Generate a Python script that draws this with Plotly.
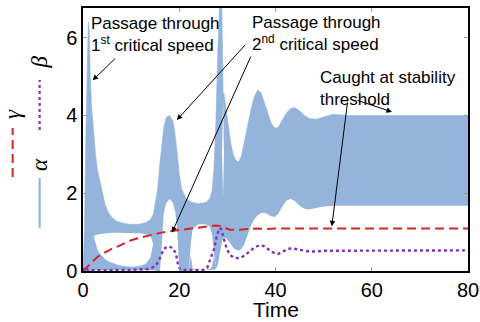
import plotly.graph_objects as go

# ---- alpha (fast oscillation shown as envelope band, with white "holes") ----
t_alpha = [0.0, 0.3, 0.6, 0.9, 1.1, 1.3, 1.5, 1.8, 2.2, 2.6, 3.0, 3.5, 4.0, 4.6, 5.3, 6.0, 7.0, 8.5,
           10.0, 11.5, 13.0, 14.0, 14.6, 15.5, 16.0, 16.4, 16.8, 17.3, 18.0, 18.7, 19.2, 19.6, 20.0,
           20.5, 21.0, 21.5, 22.0, 22.4, 22.8, 24.0, 25.5, 26.3, 26.8, 27.2, 27.6, 28.0, 28.3, 28.6,
           28.9, 29.1, 29.3, 29.7, 30.2, 30.7, 31.2, 31.7, 32.3, 32.9, 33.5, 34.2, 34.9, 35.6, 36.3,
           37.0, 37.7, 38.4, 39.1, 39.8, 40.5, 41.3, 42.2, 43.1, 44.0, 45.0, 46.0, 47.0, 48.5, 50.0,
           52.0, 55.0, 60.0, 70.0, 80.0]
alpha_low = [0, 0, 0, 0, 0, 0, 0, 0, 0.02, 0.02, 0.02, 0.02, 0.02, 0.02, 0.02, 0.02, 0.02, 0.02,
             0.02, 0.02, 0.02, 0.02, 0.02, 0, 0, 0, 0, 0, 0, 0, 0, 0, 0,
             0, 0, 0, 0, 0.02, 0.02, 0.02, 0.02, 0.02, 0.02, 0.03, 0.05, 0.15, 0.35, 0.6,
             0.78, 0.83, 0.85, 0.84, 0.78, 0.7, 0.6, 0.55, 0.53, 0.56, 0.68, 0.92, 1.17, 1.33, 1.43,
             1.49, 1.5, 1.46, 1.41, 1.39, 1.46, 1.63, 1.8, 1.86, 1.8, 1.68, 1.6, 1.58, 1.62, 1.66,
             1.68, 1.68, 1.68, 1.68, 1.68]
alpha_high = [0.15, 1.0, 3.5, 6.0, 6.4, 6.2, 5.0, 4.2, 3.5, 3.0, 2.6, 2.3, 2.0, 1.7, 1.5, 1.38, 1.28, 1.22,
              1.2, 1.2, 1.24, 1.32, 1.45, 2.1, 2.8, 3.3, 3.7, 3.95, 4.0, 3.85, 3.45, 3.0, 2.5,
              2.1, 1.95, 1.85, 1.8, 1.78, 1.76, 1.73, 1.76, 1.85, 2.05, 2.6, 3.8, 5.6, 7.2, 7.5,
              6.5, 4.6, 4.55, 4.2, 3.7, 3.3, 3.0, 2.85, 2.8, 2.95, 3.3, 3.75, 4.15, 4.48, 4.65,
              4.58, 4.3, 4.02, 3.8, 3.68, 3.68, 3.85, 4.05, 4.17, 4.2, 4.12, 4.0, 3.92, 3.9, 3.96,
              4.03, 4.0, 4.0, 4.0, 4.0]
gap_low = [0, 0, 0, 0, 0, 0, 0, 0, 0.9, 0.7, 0.55, 0.45, 0.38, 0.3, 0.25, 0.21, 0.17, 0.13,
           0.11, 0.12, 0.18, 0.35, 0.7, 0, 0, 0, 0, 0, 0, 0, 0, 0, 0,
           0, 0, 0, 0, 0.4, 0.05, 0.03, 0.03, 0.05, 0.1, 0.4, 0.05, 0.15, 0.35, 0.6,
           3.0, 1.9, 3.0, 0.84, 0.78, 0.7, 0.6, 0.55, 0.53, 0.56, 0.68, 0.92, 1.17, 1.33, 1.43,
           1.49, 1.5, 1.46, 1.41, 1.39, 1.46, 1.63, 1.8, 1.86, 1.8, 1.68, 1.6, 1.58, 1.62, 1.66,
           1.68, 1.68, 1.68, 1.68, 1.68]
gap_high = [0, 0, 0, 0, 0, 0, 0, 0, 0.9, 0.92, 0.93, 0.95, 0.96, 0.97, 0.97, 0.98, 0.98, 0.98,
            0.98, 0.97, 0.95, 0.9, 0.7, 0, 0, 0.8, 1.5, 1.75, 1.85, 1.75, 1.5, 1.0, 0,
            0, 0, 0, 0, 0.7, 1.1, 1.2, 1.2, 1.15, 0.95, 0.5, 0.05, 0.15, 0.35, 0.6,
            3.0, 4.4, 3.0, 0.84, 0.78, 0.7, 0.6, 0.55, 0.53, 0.56, 0.68, 0.92, 1.17, 1.33, 1.43,
            1.49, 1.5, 1.46, 1.41, 1.39, 1.46, 1.63, 1.8, 1.86, 1.8, 1.68, 1.6, 1.58, 1.62, 1.66,
            1.68, 1.68, 1.68, 1.68, 1.68]

# ---- gamma ----
t_gamma = [0, 0.5, 1, 2, 3, 4, 5, 6, 7, 8, 10, 12, 14, 16, 18, 20, 22, 24, 26, 27.5, 28.5, 29.5,
           30.5, 32, 34, 36, 38, 40, 45, 50, 60, 70, 80]
gamma = [0, 0.06, 0.12, 0.25, 0.36, 0.44, 0.51, 0.57, 0.62, 0.68, 0.79, 0.86, 0.93, 0.98, 1.02, 1.05,
         1.08, 1.12, 1.15, 1.17, 1.16, 1.1, 1.06, 1.06, 1.08, 1.09, 1.08, 1.09, 1.09, 1.09, 1.09, 1.09, 1.09]

# ---- beta ----
t_beta = [0, 0.5, 1.0, 1.5, 3, 6, 10, 13.5, 15.0, 15.7, 16.3, 16.8, 17.6, 18.6, 19.3, 19.8, 20.3,
          22, 25, 25.8, 26.5, 27.2, 27.8, 28.3, 28.7, 29.2, 29.8, 30.5, 31.2, 32.0, 32.8, 33.6, 34.6,
          35.6, 36.6, 37.6, 38.6, 39.6, 40.6, 41.6, 42.6, 43.6, 44.6, 45.7, 47.0, 48.5, 50, 55, 60,
          70, 80]
beta = [0, 0.1, 0.03, 0.02, 0.02, 0.02, 0.03, 0.05, 0.12, 0.25, 0.45, 0.57, 0.63, 0.6, 0.45, 0.12, 0.03,
        0.03, 0.03, 0.08, 0.3, 0.55, 0.9, 1.1, 1.08, 0.85, 0.6, 0.42, 0.35, 0.33, 0.34, 0.4, 0.5,
        0.6, 0.66, 0.64, 0.55, 0.47, 0.44, 0.5, 0.57, 0.58, 0.55, 0.53, 0.5, 0.5, 0.52, 0.52, 0.52,
        0.53, 0.53]

x_ticks = [0, 20, 40, 60, 80]
y_ticks = [0, 2, 4, 6]
x_title = "Time"

BLUE = "rgb(148,180,220)"
RED = "rgb(208,40,40)"
PURPLE = "rgb(125,50,185)"
FONT = "Liberation Sans, Arial, sans-serif"

fig = go.Figure()
# alpha band
fig.add_trace(go.Scatter(x=t_alpha, y=alpha_low, mode="lines", line=dict(width=0, color=BLUE),
                         showlegend=False, hoverinfo="skip"))
fig.add_trace(go.Scatter(x=t_alpha, y=alpha_high, mode="lines", line=dict(width=0.6, color=BLUE),
                         fill="tonexty", fillcolor=BLUE, showlegend=False, name="α"))
# white holes inside band
fig.add_trace(go.Scatter(x=t_alpha, y=gap_low, mode="lines", line=dict(width=0, color="white"),
                         showlegend=False, hoverinfo="skip"))
fig.add_trace(go.Scatter(x=t_alpha, y=gap_high, mode="lines", line=dict(width=0, color="white"),
                         fill="tonexty", fillcolor="white", showlegend=False, hoverinfo="skip"))
# gamma
fig.add_trace(go.Scatter(x=t_gamma, y=gamma, mode="lines", line=dict(color=RED, width=2, dash="9px,5px"),
                         showlegend=False, name="γ"))
# beta
fig.add_trace(go.Scatter(x=t_beta, y=beta, mode="lines", line=dict(color=PURPLE, width=2.4, dash="dot"),
                         showlegend=False, name="β"))

axis_common = dict(showline=True, linecolor="black", linewidth=1.5, mirror="ticks", ticks="inside",
                   ticklen=4, tickcolor="#999", showgrid=False, zeroline=False, automargin=False,
                   tickfont=dict(family=FONT, size=20, color="black"))
fig.update_xaxes(range=[0, 80], tickvals=x_ticks, **axis_common)
fig.update_yaxes(range=[0, 6.76], tickvals=y_ticks, **axis_common)

ann = []
# x-axis title
ann.append(dict(xref="paper", yref="paper", x=0.5, y=-0.193, xanchor="center", yanchor="bottom",
                text=x_title, showarrow=False, borderpad=0,
                font=dict(family=FONT, size=21, color="black")))
txt_font = dict(family=FONT, size=17, color="black")
ann.append(dict(xref="paper", yref="paper", x=0.015, y=0.985, xanchor="left", yanchor="top", align="left",
                text="Passage through<br>1<sup>st</sup> critical speed", showarrow=False, font=txt_font))
ann.append(dict(xref="paper", yref="paper", x=0.435, y=0.99, xanchor="left", yanchor="top", align="left",
                text="Passage through<br>2<sup>nd</sup> critical speed", showarrow=False, font=txt_font))
ann.append(dict(xref="paper", yref="paper", x=0.61, y=0.78, xanchor="left", yanchor="top", align="left",
                text="Caught at stability<br>threshold", showarrow=False, font=txt_font))

def arrow(x0, y0, x1, y1):
    # tail (x0,y0) -> head (x1,y1), in data coordinates
    return dict(x=x1, y=y1, ax=x0, ay=y0, xref="x", yref="y", axref="x", ayref="y", text="",
                showarrow=True, arrowhead=2, arrowsize=1.1, arrowwidth=1, arrowcolor="black")

ann.append(arrow(7.0, 5.5, 2.0, 4.9))
ann.append(arrow(34.0, 5.85, 19.5, 3.88))
ann.append(arrow(35.0, 5.55, 18.5, 0.99))
ann.append(arrow(56.7, 4.4, 64.2, 4.09))
ann.append(arrow(55.0, 4.37, 51.7, 1.15))

# rotated legend
leg_font = dict(family="Liberation Serif, Times New Roman, serif", size=23, color="black")
for lx, ly, lt in [(-0.183, 0.595, "<i>γ</i>"), (-0.113, 0.405, "<i>α</i>"), (-0.113, 0.795, "<i>β</i>")]:
    ann.append(dict(xref="paper", yref="paper", x=lx, y=ly, xanchor="center", yanchor="middle",
                    text=lt, textangle=-90, showarrow=False, font=leg_font))
fig.update_layout(annotations=ann)

shapes = [
    dict(type="line", xref="paper", yref="paper", x0=-0.1827, x1=-0.1827, y0=0.357, y1=0.544,
         line=dict(color=RED, width=2, dash="9px,5px")),
    dict(type="line", xref="paper", yref="paper", x0=-0.1126, x1=-0.1126, y0=0.164, y1=0.354,
         line=dict(color=BLUE, width=2.2)),
    dict(type="line", xref="paper", yref="paper", x0=-0.1126, x1=-0.1126, y0=0.536, y1=0.726,
         line=dict(color=PURPLE, width=2.2, dash="dot")),
]

fig.update_layout(width=480, height=322, margin=dict(l=83, r=12, t=8, b=51),
                  plot_bgcolor="white", paper_bgcolor="white", shapes=shapes, showlegend=False,
                  font=dict(family=FONT))
fig.write_html("out.html")
